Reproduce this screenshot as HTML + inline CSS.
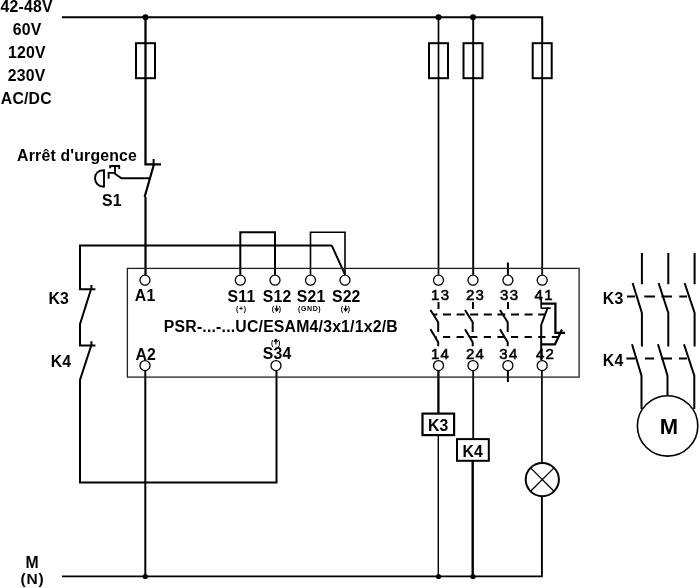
<!DOCTYPE html>
<html><head><meta charset="utf-8">
<style>
html,body{margin:0;padding:0;background:#fff;width:700px;height:588px;overflow:hidden}
#w{position:absolute;left:0;top:0;width:700px;height:588px;will-change:transform}
svg{display:block}
text{font-family:"Liberation Sans",sans-serif;fill:#000}
</style></head><body><div id="w">
<svg width="700" height="588" viewBox="0 0 700 588">
<g fill="none" stroke="#000" stroke-width="2">
<path d="M62 17.2H542.2V43"/>
<rect x="136" y="43.2" width="19" height="35"/>
<rect x="429" y="43.2" width="19" height="35"/>
<rect x="463.5" y="43.2" width="19" height="35"/>
<rect x="532.7" y="43.2" width="19" height="35"/>
<path d="M145.5 17V164.3H161" stroke-width="2.3"/>
<path d="M153.6 159V164.3"/>
<path d="M154.1 163.7L144.6 197M145.5 197V280" stroke-width="2.2"/>
<path d="M438.5 17V274.7" stroke-width="1.7"/>
<path d="M473.2 17V274.7" stroke-width="1.9"/>
<path d="M542.2 43V274.7" stroke-width="1.8"/>
<path d="M331.7 245.4H80V289.3H95.4M91.4 284.9V289.3M91.4 288L80 324.2V345.5H95.4M91.4 341.3V345.5M91.4 345L80 380V482.6H276.5V371"/>
<path d="M331.7 245.4L345 274.7"/>
<path d="M145.3 371V576.5"/>
<path d="M62 576.4H541.9V497" stroke-width="1.9"/>
<path d="M541.9 371V462" stroke-width="1.7"/>
<path d="M240.3 274.7V232.3H275V274.7"/>
<path d="M310.5 274.7V232.3H345V274.7" stroke-width="1.6"/>
<path d="M438.4 371V413.6" stroke-width="2.3"/><path d="M438.3 435V576.5" stroke-width="1.4"/>
<path d="M473.2 371V439" stroke-width="1.8"/><path d="M472.7 461V576.5" stroke-width="2.4"/>
<rect x="422.5" y="413.6" width="31.6" height="21.5" fill="#fff" stroke-width="2.2"/>
<rect x="457" y="439.1" width="31.8" height="21.7" fill="#fff"/>
<circle cx="542.3" cy="479.6" r="16.6"/>
<path d="M530.6 467.9L554 491.3M554 467.9L530.6 491.3" stroke-width="1.3"/>
<path d="M507.9 262.6V274.7M507.9 371V382"/>
</g>
<rect x="127.4" y="268.4" width="451.7" height="108.7" fill="none" stroke="#222" stroke-width="1.3"/>
<g fill="#fff" stroke="#000" stroke-width="1.3">
<circle cx="145" cy="280.2" r="5"/>
<circle cx="240.3" cy="280.2" r="5"/>
<circle cx="275" cy="280.2" r="5"/>
<circle cx="310.5" cy="280.2" r="5"/>
<circle cx="345" cy="280.2" r="5"/>
<circle cx="438.5" cy="280.2" r="5"/>
<circle cx="473" cy="280.2" r="5"/>
<circle cx="507.9" cy="280.2" r="5"/>
<circle cx="542.2" cy="280.2" r="5"/>
<circle cx="145" cy="365.6" r="5"/>
<circle cx="276" cy="365.6" r="5"/>
<circle cx="438.5" cy="365.6" r="5"/>
<circle cx="473" cy="365.6" r="5"/>
<circle cx="507.9" cy="365.6" r="5"/>
<circle cx="542.2" cy="365.6" r="5"/>
</g>
<g fill="#000">
<circle cx="145.5" cy="17.2" r="3"/>
<circle cx="438.5" cy="17.2" r="3"/>
<circle cx="473" cy="17.2" r="3"/>
<circle cx="145.3" cy="576.5" r="2.6"/>
<circle cx="438.5" cy="576.5" r="2.6"/>
<circle cx="473" cy="576.5" r="2.6"/>
</g>
<g fill="none" stroke="#000" stroke-width="2">
<path d="M438.5 302V309M430.5 310L438.2 322.2V332M430.5 329.3L438.2 342.2V346.3"/>
<path d="M473 302V309M465 310L472.7 322.2V332M465 329.3L472.7 342.2V346.3"/>
<path d="M508 302V309M500 310L507.7 322.2V332M500 329.3L507.7 342.2V346.3"/>
<path d="M541.2 298V308.5" stroke-width="1.6"/><path d="M540.7 303.6H555.4V332.8H565" stroke-width="2.3"/><path d="M541.2 308.2H550.8" stroke-width="1.6"/><path d="M547.8 307.3L541.2 325V360"/><path d="M562 329.5L555 344.3H541.2" stroke-width="2.2"/>
<path d="M433.3 314.4H545" stroke-dasharray="8 5.6" stroke-dashoffset="3.9"/>
<path d="M435.3 337H558" stroke-dasharray="7.2 6.4" stroke-dashoffset="5.9"/>
<path d="M641.9 253V284.3M668.3 253V284.3M694.6 253V284.3"/>
<path d="M632.6 283L641.9 313V346.4M658.6 283L668.3 313V346.4M684.6 283L694.6 313V346.4"/>
<path d="M632 344.3L641.5 375.7V409M658 344.3L667.5 375.7V395M684 344.3L694.3 375.7V409"/>
<path d="M627 296.4H635M644.3 296.4H655M661.4 296.4H672M679.3 296.4H687"/>
<path d="M626.4 358.6H635M645 358.6H654M661 358.6H672M679 358.6H687"/>
<circle cx="667.6" cy="425.9" r="30.2" stroke-width="1.6"/>
<path d="M104 169.3V187.6M104 170.2C98.5 170.2 95 173.5 95 178.3C95 183 98.5 186.6 104 186.8M110.2 168.2V166H119.2V169M115 166V174M108.6 178.8V172.9H115M114.6 173.5L121.5 178.3H149" stroke-width="1.9"/>
</g>

<text x="0.5" y="11.8" style="font-size:15.8px;font-weight:bold;letter-spacing:0.2px">42-48V</text>
<text x="12.8" y="34.9" style="font-size:15.8px;font-weight:bold;letter-spacing:0.2px">60V</text>
<text x="8.0" y="58.1" style="font-size:15.8px;font-weight:bold;letter-spacing:0.2px">120V</text>
<text x="7.8" y="81.4" style="font-size:15.8px;font-weight:bold;letter-spacing:0.2px">230V</text>
<text x="0.8" y="104.3" style="font-size:15.8px;font-weight:bold;letter-spacing:0.2px">AC/DC</text>
<text x="17.1" y="160.8" style="font-size:15.8px;font-weight:bold;letter-spacing:0.2px">Arrêt d&#39;urgence</text>
<text x="101.9" y="205.6" style="font-size:15.8px;font-weight:bold;letter-spacing:0.2px">S1</text>
<text x="48.5" y="304.0" style="font-size:15.8px;font-weight:bold;letter-spacing:0.2px">K3</text>
<text x="50.7" y="367.4" style="font-size:15.8px;font-weight:bold;letter-spacing:0.2px">K4</text>
<text x="134.8" y="301.0" style="font-size:15.8px;font-weight:bold;letter-spacing:0.2px">A1</text>
<text x="135.5" y="359.7" style="font-size:15.8px;font-weight:bold;letter-spacing:0.2px">A2</text>
<text x="227.6" y="301.5" style="font-size:15.8px;font-weight:bold;letter-spacing:0.2px">S11</text>
<text x="262.8" y="301.5" style="font-size:15.8px;font-weight:bold;letter-spacing:0.2px">S12</text>
<text x="296.8" y="301.5" style="font-size:15.8px;font-weight:bold;letter-spacing:0.2px">S21</text>
<text x="331.9" y="301.5" style="font-size:15.8px;font-weight:bold;letter-spacing:0.2px">S22</text>
<text x="262.8" y="358.6" style="font-size:15.8px;font-weight:bold;letter-spacing:0.2px">S34</text>
<text x="163.8" y="331.7" style="font-size:15.8px;font-weight:bold;letter-spacing:0.2px">PSR-...-...UC/ESAM4/3x1/1x2/B</text>
<text x="427.9" y="430.5" style="font-size:15.8px;font-weight:bold;letter-spacing:0.2px">K3</text>
<text x="462.5" y="456.8" style="font-size:15.8px;font-weight:bold;letter-spacing:0.2px">K4</text>
<text x="602.8" y="304.3" style="font-size:15.8px;font-weight:bold;letter-spacing:0.2px">K3</text>
<text x="602.8" y="365.7" style="font-size:15.8px;font-weight:bold;letter-spacing:0.2px">K4</text>
<text x="659.7" y="434.3" style="font-size:22px;font-weight:bold;letter-spacing:0px">M</text>
<text x="25.4" y="568.2" style="font-size:15.8px;font-weight:bold;letter-spacing:0.2px">M</text>
<text x="20.5" y="584.2" style="font-size:15.5px;font-weight:bold;letter-spacing:0.8px">(N)</text>
<text x="431.1" y="299.7" style="font-size:15px;font-weight:normal;letter-spacing:1.3px" stroke="#000" stroke-width="0.55">13</text>
<text x="465.90000000000003" y="299.7" style="font-size:15px;font-weight:normal;letter-spacing:1.3px" stroke="#000" stroke-width="0.55">23</text>
<text x="500.0" y="299.5" style="font-size:15px;font-weight:normal;letter-spacing:1.3px" stroke="#000" stroke-width="0.55">33</text>
<text x="534.6" y="299.5" style="font-size:15px;font-weight:normal;letter-spacing:1.3px" stroke="#000" stroke-width="0.55">41</text>
<text x="430.90000000000003" y="358.5" style="font-size:15px;font-weight:normal;letter-spacing:1.3px" stroke="#000" stroke-width="0.55">14</text>
<text x="465.90000000000003" y="358.5" style="font-size:15px;font-weight:normal;letter-spacing:1.3px" stroke="#000" stroke-width="0.55">24</text>
<text x="499.3" y="358.5" style="font-size:15px;font-weight:normal;letter-spacing:1.3px" stroke="#000" stroke-width="0.55">34</text>
<text x="535.9" y="358.5" style="font-size:15px;font-weight:normal;letter-spacing:1.3px" stroke="#000" stroke-width="0.55">42</text>
<text x="241.3" y="311.3" text-anchor="middle" style="font-size:7px;font-weight:bold;letter-spacing:0.6px">(+)</text>
<text x="277.2" y="311.3" text-anchor="middle" style="font-size:7px;font-weight:bold;letter-spacing:1.4px">( )</text>
<text x="309.7" y="311.3" text-anchor="middle" style="font-size:7px;font-weight:bold;letter-spacing:0.6px">(GND)</text>
<text x="346.2" y="311.3" text-anchor="middle" style="font-size:7px;font-weight:bold;letter-spacing:1.4px">( )</text>
<text x="276.4" y="344.6" text-anchor="middle" style="font-size:7px;font-weight:bold;letter-spacing:1.4px">( )</text>
<path d="M276.7 305.6V309.8M274.9 308.3L276.7 310.9L278.5 308.3M345.7 305.6V309.8M343.9 308.3L345.7 310.9L347.5 308.3" fill="none" stroke="#000" stroke-width="1.2"/>
<path d="M275.9 344.6V340.4M274.1 341.9L275.9 339.3L277.7 341.9" fill="none" stroke="#000" stroke-width="1.2"/>
</svg></div>
</body></html>
